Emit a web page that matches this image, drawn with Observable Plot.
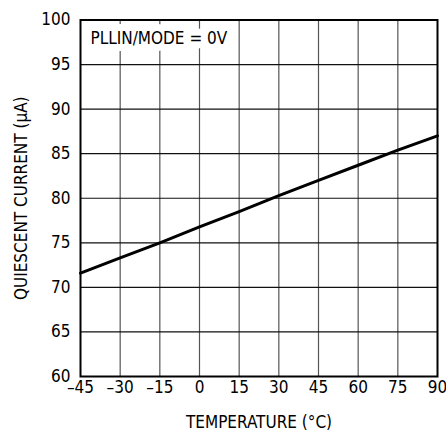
<!DOCTYPE html>
<html>
<head>
<meta charset="utf-8">
<script src="https://cdn.jsdelivr.net/npm/d3@7"></script>
<script src="https://cdn.jsdelivr.net/npm/@observablehq/plot@0.6"></script>
<style>
  html, body { margin: 0; padding: 0; background: #fff; }
  #chart svg { display: block; }
</style>
</head>
<body>
<div id="chart"></div>
<script>
const temperatures = [-45, -30, -15, 0, 15, 30, 45, 60, 75, 90];
const currents = [71.6, 73.3, 75.0, 76.8, 78.5, 80.3, 82.0, 83.7, 85.4, 87.0];
const xTicks = [-45, -30, -15, 0, 15, 30, 45, 60, 75, 90];
const yTicks = [60, 65, 70, 75, 80, 85, 90, 95, 100];
const annotation = "PLLIN/MODE = 0V";
const xLabel = "TEMPERATURE (°C)";
const yLabel = "QUIESCENT CURRENT (µA)";

const data = temperatures.map((t, i) => ({t, c: currents[i]}));
const fmt = d => (d < 0 ? "\u2013" + Math.abs(d) : String(d));
const font = "'DejaVu Sans Condensed', 'DejaVu Sans', sans-serif";
const fs = 17;

const chart = Plot.plot({
  width: 446,
  height: 432,
  marginLeft: 80,
  marginRight: 9,
  marginTop: 19.5,
  marginBottom: 56,
  style: {fontFamily: font, fontSize: fs + "px", color: "#000", background: "#fff"},
  x: {domain: [-45, 90]},
  y: {domain: [60, 100]},
  marks: [
    Plot.gridX(xTicks.slice(1, -1), {stroke: "#555", strokeOpacity: 1, strokeWidth: 1.2}),
    Plot.gridY(yTicks.slice(1, -1), {stroke: "#111", strokeOpacity: 1, strokeWidth: 1.2}),
    Plot.text([annotation], {frameAnchor: "top-left", dx: 10, dy: 19, lineAnchor: "middle", textAnchor: "start",
      fill: "#fff", stroke: "#fff", strokeWidth: 14, strokeLinejoin: "round", fontSize: fs}),
    Plot.text([annotation], {frameAnchor: "top-left", dx: 10, dy: 19, lineAnchor: "middle", textAnchor: "start",
      fill: "#000", fontSize: fs}),
    Plot.frame({stroke: "#000", strokeWidth: 2}),
    Plot.line(data, {x: "t", y: "c", stroke: "#000", strokeWidth: 3}),
    Plot.axisX({ticks: xTicks, tickFormat: fmt, tickSize: 0, tickPadding: 4, fontSize: fs, label: null}),
    Plot.axisY({ticks: yTicks, tickSize: 0, tickPadding: 10, fontSize: fs, label: null}),
    Plot.text([xLabel], {frameAnchor: "bottom", dy: 46, lineAnchor: "middle", fontSize: fs, fill: "#000"}),
    Plot.text([yLabel], {frameAnchor: "left", dx: -59, rotate: -90, lineAnchor: "middle", textAnchor: "middle", fontSize: fs, fill: "#000"})
  ]
});
document.getElementById("chart").appendChild(chart);
</script>
</body>
</html>
